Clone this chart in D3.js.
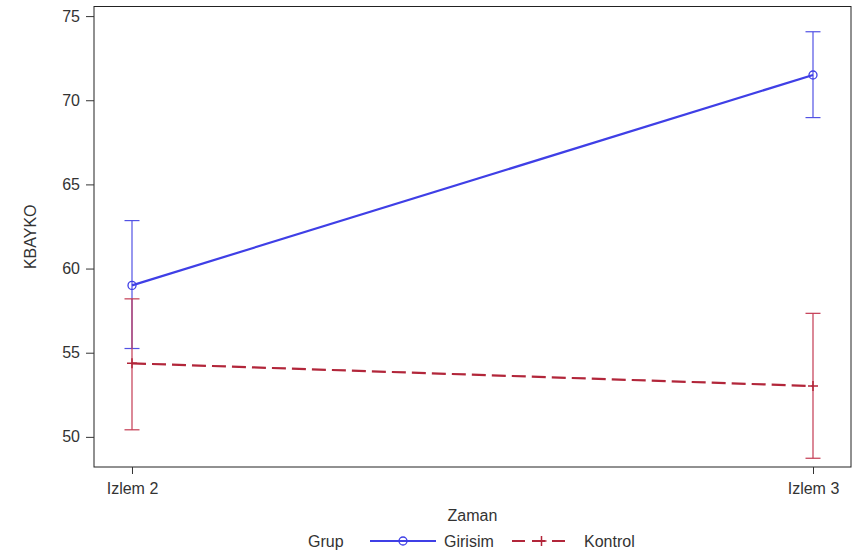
<!DOCTYPE html>
<html><head><meta charset="utf-8">
<script src="https://cdn.jsdelivr.net/npm/d3@7"></script>
<style>body{margin:0;background:#fff}text{font-family:"Liberation Sans",Arial,sans-serif}</style>
</head><body><svg id="c" width="859" height="557"></svg>
<script>
const categories = ["Izlem 2", "Izlem 3"];
const groups = ["Girisim", "Kontrol"];
const girisimMean = [59.0, 71.5];
const girisimLow = [55.25, 68.97];
const girisimHigh = [62.85, 74.07];
const kontrolMean = [54.37, 53.02];
const kontrolLow = [50.42, 48.73];
const kontrolHigh = [58.2, 57.34];
const yTicks = [50, 55, 60, 65, 70, 75];

const svg = d3.select("#c");
const L = 94, R = 851, T = 6.5, B = 467;
const x = d3.scalePoint().domain(categories).range([L, R]).padding(0.0558);
const y = d3.scaleLinear().domain([48.21, 75.57]).range([B, T]);
const txt = "#333";
const FS = 16;

const series = [
  {name: groups[0], mean: girisimMean, lo: girisimLow, hi: girisimHigh, color: "#3f3fe6", err: "#5252e4", dash: null, marker: "circle"},
  {name: groups[1], mean: kontrolMean, lo: kontrolLow, hi: kontrolHigh, color: "#b2263a", err: "#c43a52", dash: "14,6", marker: "plus"}
];

// frame
svg.append("rect").attr("x", L).attr("y", T).attr("width", R - L).attr("height", B - T)
  .attr("fill", "none").attr("stroke", "#222").attr("stroke-width", 1);

// y axis
const ya = svg.append("g").attr("transform", `translate(${L},0)`)
  .call(d3.axisLeft(y).tickValues(yTicks).tickSize(8).tickPadding(6));
ya.select(".domain").remove();
ya.selectAll("line").attr("stroke", "#333");
ya.selectAll("text").attr("font-size", FS).attr("fill", txt).attr("font-family", "Liberation Sans, Arial");

// x axis
const xa = svg.append("g").attr("transform", `translate(0,${B})`)
  .call(d3.axisBottom(x).tickSize(7).tickPadding(9));
xa.select(".domain").remove();
xa.selectAll("line").attr("stroke", "#333");
xa.selectAll("text").attr("font-size", FS).attr("fill", txt).attr("font-family", "Liberation Sans, Arial");

// axis labels
svg.append("text").attr("x", (L + R) / 2).attr("y", 521).attr("text-anchor", "middle")
  .attr("font-size", FS).attr("fill", txt).text("Zaman");
svg.append("text").attr("transform", `translate(36,${(T + B) / 2}) rotate(-90)`).attr("text-anchor", "middle")
  .attr("font-size", FS).attr("fill", txt).text("KBAYKO");

const cap = 7.5;
series.forEach(s => {
  const g = svg.append("g");
  categories.forEach((c, i) => {
    const cx = x(c);
    g.append("line").attr("x1", cx).attr("x2", cx).attr("y1", y(s.lo[i])).attr("y2", y(s.hi[i]))
      .attr("stroke", s.err).attr("stroke-width", 1.2);
    [s.lo[i], s.hi[i]].forEach(v => g.append("line").attr("x1", cx - cap).attr("x2", cx + cap)
      .attr("y1", y(v)).attr("y2", y(v)).attr("stroke", s.err).attr("stroke-width", 1.2));
  });
  const line = d3.line().x((d, i) => x(categories[i])).y(d => y(d));
  g.append("path").datum(s.mean).attr("d", line).attr("fill", "none").attr("stroke", s.color)
    .attr("stroke-width", 2.2).attr("stroke-dasharray", s.dash);
  s.mean.forEach((v, i) => drawMarker(g, s, x(categories[i]), y(v)));
});

function drawMarker(g, s, cx, cy) {
  if (s.marker === "circle") {
    g.append("circle").attr("cx", cx).attr("cy", cy).attr("r", 4).attr("fill", "none")
      .attr("stroke", s.color).attr("stroke-width", 1.3);
  } else {
    g.append("path").attr("d", `M${cx - 5},${cy}H${cx + 5}M${cx},${cy - 5}V${cy + 5}`)
      .attr("stroke", s.color).attr("stroke-width", 1.5);
  }
}

// legend
const ly = 541;
svg.append("text").attr("x", 308).attr("y", ly + 6).attr("font-size", FS).attr("fill", txt).text("Grup");
const lg = [{s: series[0], x1: 370, x2: 436, tx: 444}, {s: series[1], x1: 512, x2: 571, tx: 584}];
lg.forEach(o => {
  svg.append("line").attr("x1", o.x1).attr("x2", o.x2).attr("y1", ly).attr("y2", ly)
    .attr("stroke", o.s.color).attr("stroke-width", 2.2).attr("stroke-dasharray", o.s.dash ? "13,7" : null);
  drawMarker(svg, o.s, (o.x1 + o.x2) / 2, ly);
  svg.append("text").attr("x", o.tx).attr("y", ly + 6).attr("font-size", FS).attr("fill", txt).text(o.s.name);
});
</script></body></html>
